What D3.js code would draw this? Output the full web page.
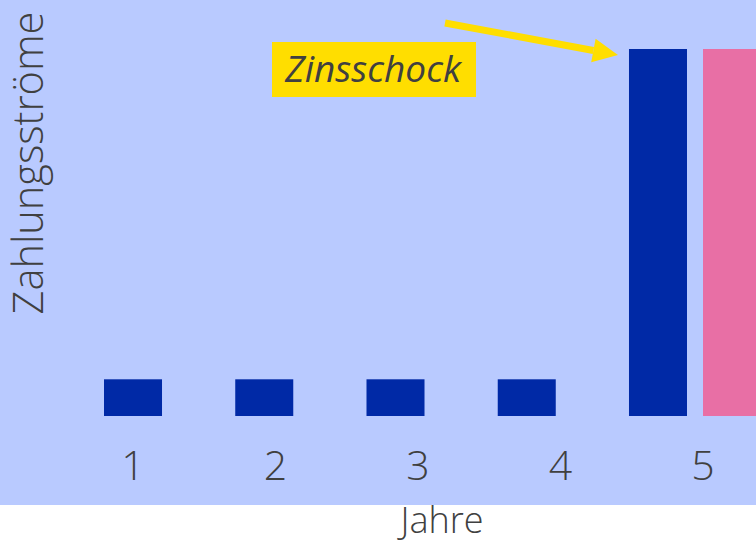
<!DOCTYPE html>
<html>
<head>
<meta charset="utf-8">
<script src="https://cdn.jsdelivr.net/npm/d3@7.9.0/dist/d3.min.js"></script>
<style>
  html, body { margin: 0; padding: 0; background: #fff; }
  svg { display: block; font-family: "Open Sans", "Noto Sans", sans-serif; }
</style>
</head>
<body>
<svg id="chart" width="756" height="544"></svg>
<script>
// data
const years = [1, 2, 3, 4, 5];
const cashflows = [1, 1, 1, 1, 10];        // dark blue bars
const shockYears = [5];
const shockValues = [10];                   // pink bar
const tickLabels = ['1', '2', '3', '4', '5'];
const yTitle = 'Zahlungsströme';
const xTitle = 'Jahre';
const note = 'Zinsschock';

const W = 756, H = 544;
const svg = d3.select('#chart');

// light blue plot panel
svg.append('rect')
  .attr('x', 0).attr('y', 0)
  .attr('width', W).attr('height', 505)
  .attr('fill', '#b9caff');

let x = d3.scaleBand()
  .domain(years)
  .range([104, 687])
  .paddingInner(0.558)
  .paddingOuter(0);

let y = d3.scaleLinear().domain([0, 10]).range([416, 49]);

// blue bars
svg.selectAll('rect.cf')
  .data(years.map((yr, i) => ({ year: yr, value: cashflows[i] })))
  .join('rect')
  .attr('class', 'cf')
  .attr('x', d => x(d.year))
  .attr('y', d => y(d.value))
  .attr('width', x.bandwidth())
  .attr('height', d => y(0) - y(d.value))
  .attr('fill', '#0029a6');

// pink bar next to year 5
svg.selectAll('rect.shock')
  .data(shockYears.map((yr, i) => ({ year: yr, value: shockValues[i] })))
  .join('rect')
  .attr('class', 'shock')
  .attr('x', d => x(d.year) + x.bandwidth() + 16)
  .attr('y', d => y(d.value))
  .attr('width', x.bandwidth())
  .attr('height', d => y(0) - y(d.value))
  .attr('fill', '#e86fa5');

// tick labels
let xt = d3.scaleLinear().domain([1, 5]).range([132.5, 702.5]);
let axis = svg.append('g')
  .attr('transform', 'translate(0,480)')
  .call(d3.axisBottom(xt).tickValues(years).tickFormat((d, i) => tickLabels[i]).tickSize(0).tickPadding(0));
axis.select('.domain').remove();
axis.selectAll('text')
  .attr('dy', 0)
  .attr('font-size', 41)
  .attr('font-family', '"Open Sans", sans-serif')
  .attr('font-weight', 300)
  .attr('fill', '#404040');

// axis titles
svg.append('text')
  .attr('transform', 'translate(43,163) rotate(-90)')
  .attr('text-anchor', 'middle')
  .attr('font-size', 41.5)
  .attr('font-weight', 300)
  .attr('fill', '#404040')
  .text(yTitle);

svg.append('text')
  .attr('x', 442).attr('y', 533)
  .attr('text-anchor', 'middle')
  .attr('font-size', 36)
  .attr('font-weight', 300)
  .attr('fill', '#404040')
  .text(xTitle);

// annotation box
svg.append('rect')
  .attr('x', 272).attr('y', 42)
  .attr('width', 204).attr('height', 55)
  .attr('fill', '#ffde00');
svg.append('text')
  .attr('x', 373).attr('y', 82)
  .attr('text-anchor', 'middle')
  .attr('font-size', 37)
  .attr('font-style', 'italic')
  .attr('fill', '#404040')
  .text(note);

// arrow pointing at the shock bar
let tip = [x(5) - 11, y(10) + 6];
let start = [445, 23];
let ang = Math.atan2(tip[1] - start[1], tip[0] - start[0]);
let headLen = 25, headW = 12;
let base = [tip[0] - headLen * Math.cos(ang), tip[1] - headLen * Math.sin(ang)];
svg.append('line')
  .attr('x1', start[0]).attr('y1', start[1])
  .attr('x2', base[0]).attr('y2', base[1])
  .attr('stroke', '#ffde00')
  .attr('stroke-width', 7);
svg.append('polygon')
  .attr('points', [
    tip,
    [base[0] + headW * Math.sin(ang), base[1] - headW * Math.cos(ang)],
    [base[0] - headW * Math.sin(ang), base[1] + headW * Math.cos(ang)]
  ].map(p => p.join(',')).join(' '))
  .attr('fill', '#ffde00');
</script>
</body>
</html>
